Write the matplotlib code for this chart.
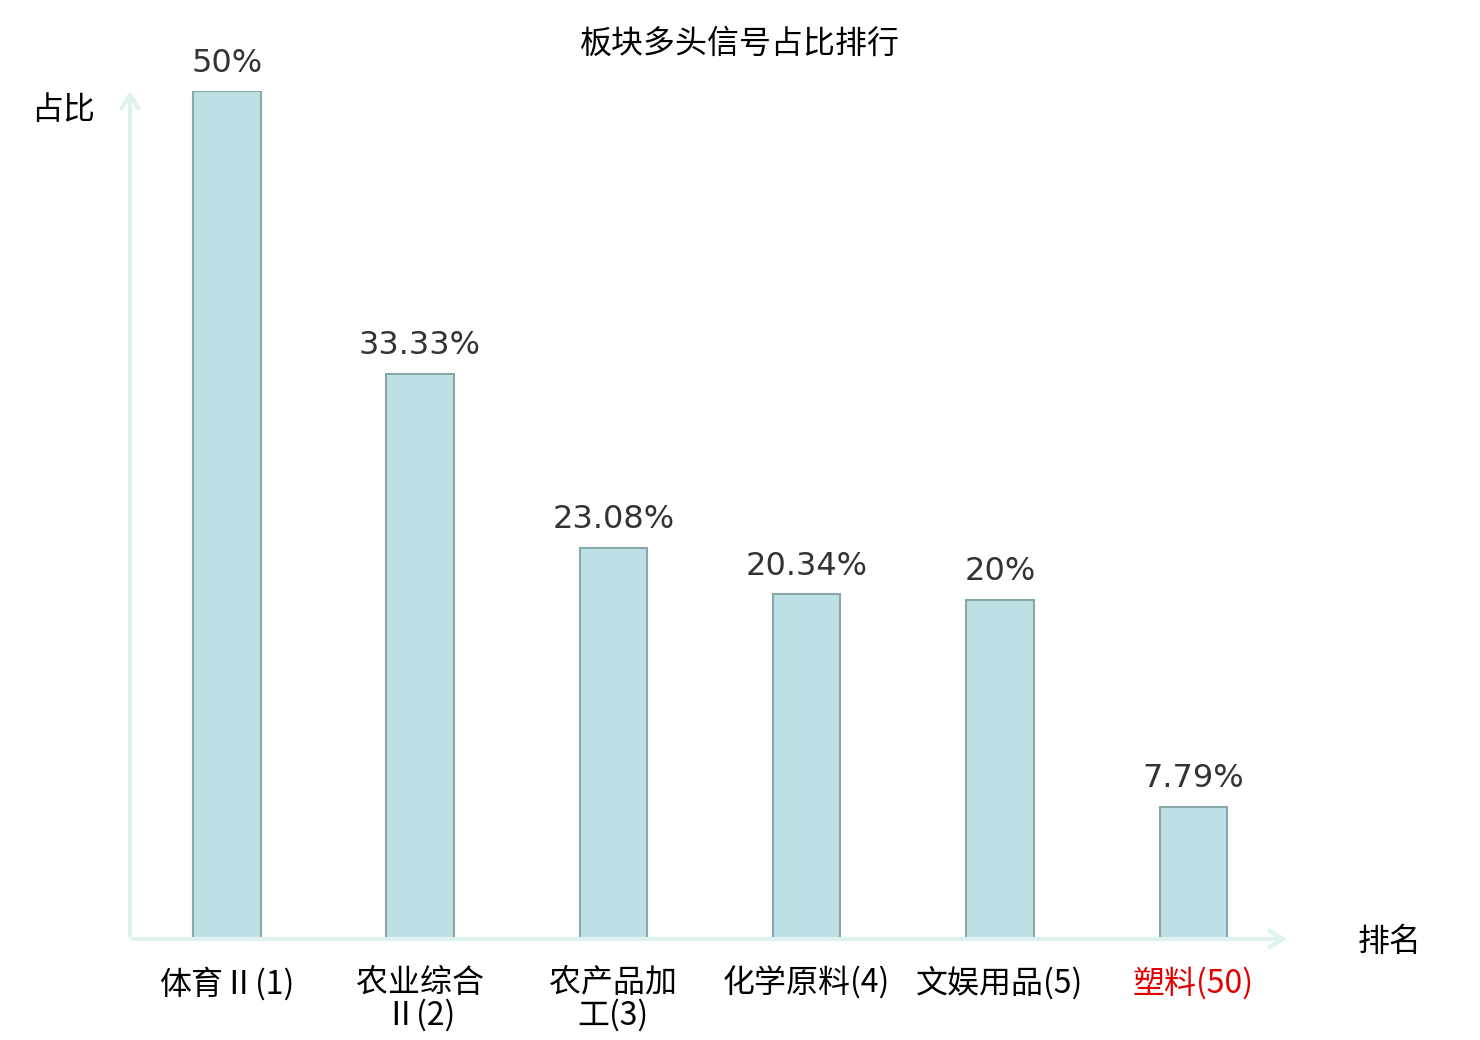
import matplotlib.pyplot as plt

plt.rcParams['font.family'] = ['Noto Sans CJK SC', 'DejaVu Sans']

categories = ['体育Ⅱ(1)', '农业综合\nⅡ(2)', '农产品加\n工(3)', '化学原料(4)', '文娱用品(5)', '塑料(50)']
values = [50, 33.33, 23.08, 20.34, 20, 7.79]
value_labels = ['50%', '33.33%', '23.08%', '20.34%', '20%', '7.79%']
label_colors = ['black', 'black', 'black', 'black', 'black', '#e00000']

fig = plt.figure(figsize=(14.8, 10.4), dpi=100)
ax = fig.add_axes([130 / 1480, 1 - 939 / 1040, 1160 / 1480, 848 / 1040])

x = list(range(len(categories)))
ax.bar(x, values, width=0.35, color='#bce0e3', edgecolor='#8aa8aa', linewidth=1.5, zorder=3)

for xi, v, lab in zip(x, values, value_labels):
    ax.annotate(lab, (xi, v), xytext=(0, 9), textcoords='offset points',
                ha='center', va='bottom', fontsize=23, color='#333333',
                family=['DejaVu Sans', 'Noto Sans CJK SC'])

ax.set_xlim(-0.5, 5.5)
ax.set_ylim(0, 50)
for s in ax.spines.values():
    s.set_visible(False)
ax.set_yticks([])
ax.set_xticks(x)
ax.set_xticklabels(categories, fontsize=23, linespacing=1.0)
for t, c in zip(ax.get_xticklabels(), label_colors):
    t.set_color(c)
ax.tick_params(axis='x', length=0, pad=20)

axis_color = '#dff2ef'
arrow = dict(arrowstyle='->,head_length=1.0,head_width=0.6', color=axis_color, lw=3)
ax.annotate('', xy=(1.0, 0), xytext=(0, 0), xycoords='axes fraction', arrowprops=arrow)
ax.annotate('', xy=(0, 1.004), xytext=(0, 0), xycoords='axes fraction', arrowprops=arrow)

fig.text(63 / 1480, 1 - 110 / 1040, '占比', fontsize=23, ha='center', va='center')
fig.text(1390 / 1480, 1 - 942 / 1040, '排名', fontsize=23, ha='center', va='center')
fig.text(740 / 1480, 1 - 44 / 1040, '板块多头信号占比排行', fontsize=23, ha='center', va='center')

fig.savefig('out.png', dpi=100)
